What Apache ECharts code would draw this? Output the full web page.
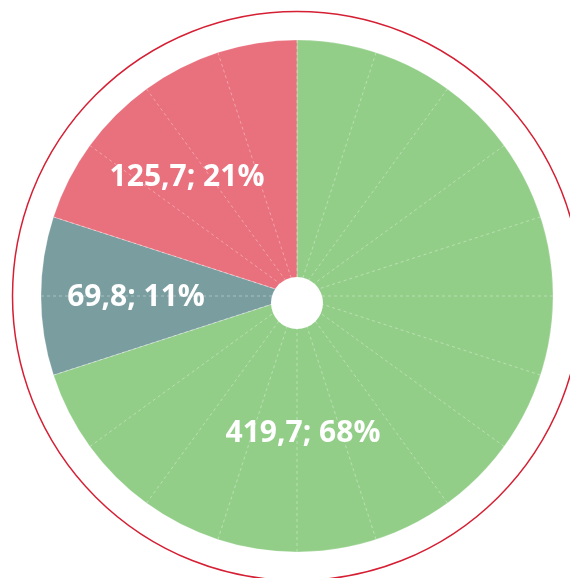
<!DOCTYPE html>
<html>
<head>
<meta charset="utf-8">
<script src="https://cdn.jsdelivr.net/npm/echarts@6/dist/echarts.min.js"></script>
<style>
  html, body { margin: 0; padding: 0; background: #fff; }
  #chart { width: 570px; height: 578px; }
</style>
</head>
<body>
<div id="chart"></div>
<script>
// categories in drawing order (clockwise from the top)
const categories = ['Grün', 'Blau', 'Rot'];
// values shown in the labels
const values = [419.7, 69.8, 125.7];
const percents = [68, 11, 21];
// the pie is drawn in 5% segments (20 per circle)
const segments = [14, 2, 4];

const colors = ['#93ce89', '#7a9da0', '#e9707d'];
// label nudges from the slice centre
const labelShift = [[-100, 60], [-30, 1], [-33, -13]];

const fmt = v => String(v).replace('.', ',');

const chart = echarts.init(document.getElementById('chart'));

const option = {
  animation: false,
  polar: {
    center: [297, 296],
    radius: 256
  },
  angleAxis: {
    type: 'value',
    min: 0,
    max: 360,
    interval: 18,
    startAngle: 90,
    z: 5,
    axisLine: { show: false },
    axisTick: { show: false },
    axisLabel: { show: false },
    splitLine: {
      show: true,
      lineStyle: { color: 'rgba(255,255,255,0.35)', width: 1, type: [3, 3] }
    }
  },
  radiusAxis: { show: false, min: 0, max: 1 },
  series: [{
    type: 'pie',
    center: [297, 296],
    radius: [0, 256],
    startAngle: 90,
    clockwise: true,
    silent: true,
    itemStyle: { borderColor: 'rgba(255,255,255,0.4)', borderWidth: 0.5 },
    label: {
      show: true,
      position: 'inside',
      color: '#fff',
      fontFamily: 'Open Sans',
      fontWeight: 'bold',
      fontSize: 30,
      formatter: p => fmt(values[p.dataIndex]) + '; ' + percents[p.dataIndex] + '%'
    },
    labelLine: { show: false },
    labelLayout: p => ({ dx: labelShift[p.dataIndex][0], dy: labelShift[p.dataIndex][1] }),
    data: categories.map((c, i) => ({
      name: c,
      value: segments[i],
      itemStyle: { color: colors[i] }
    }))
  }],
  graphic: [{
    type: 'circle',
    z: 100,
    shape: { cx: 297, cy: 296, r: 284.5 },
    style: { fill: null, stroke: '#d51f33', lineWidth: 1.5 }
  }, {
    type: 'circle',
    z: 100,
    shape: { cx: 297, cy: 303, r: 26 },
    style: { fill: '#fff' }
  }]
};

chart.setOption(option);
</script>
</body>
</html>
